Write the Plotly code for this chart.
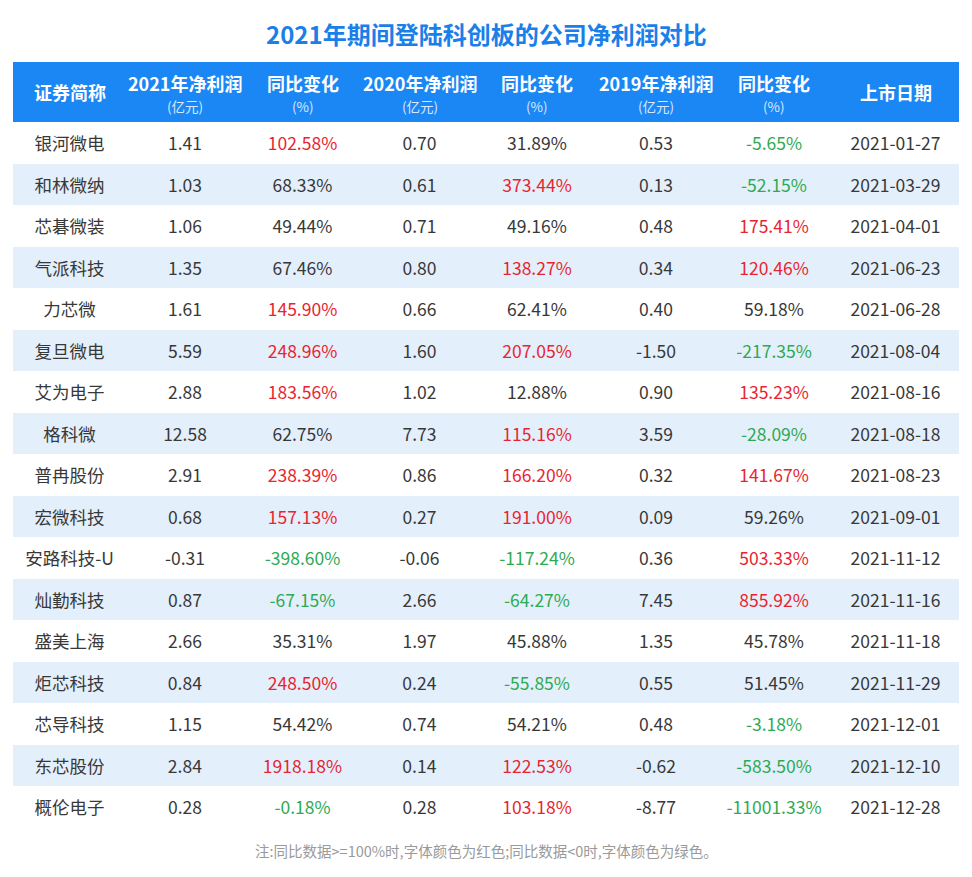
import plotly.graph_objects as go

# 2021年期间登陆科创板的公司净利润对比
names = ['银河微电', '和林微纳', '芯碁微装', '气派科技', '力芯微', '复旦微电', '艾为电子', '格科微',
         '普冉股份', '宏微科技', '安路科技-U', '灿勤科技', '盛美上海', '炬芯科技', '芯导科技', '东芯股份', '概伦电子']
profit_2021 = [1.41, 1.03, 1.06, 1.35, 1.61, 5.59, 2.88, 12.58, 2.91, 0.68, -0.31, 0.87, 2.66, 0.84, 1.15, 2.84, 0.28]
yoy_2021 = [102.58, 68.33, 49.44, 67.46, 145.90, 248.96, 183.56, 62.75, 238.39, 157.13, -398.60, -67.15, 35.31,
            248.50, 54.42, 1918.18, -0.18]
profit_2020 = [0.70, 0.61, 0.71, 0.80, 0.66, 1.60, 1.02, 7.73, 0.86, 0.27, -0.06, 2.66, 1.97, 0.24, 0.74, 0.14, 0.28]
yoy_2020 = [31.89, 373.44, 49.16, 138.27, 62.41, 207.05, 12.88, 115.16, 166.20, 191.00, -117.24, -64.27, 45.88,
            -55.85, 54.21, 122.53, 103.18]
profit_2019 = [0.53, 0.13, 0.48, 0.34, 0.40, -1.50, 0.90, 3.59, 0.32, 0.09, 0.36, 7.45, 1.35, 0.55, 0.48, -0.62, -8.77]
yoy_2019 = [-5.65, -52.15, 175.41, 120.46, 59.18, -217.35, 135.23, -28.09, 141.67, 59.26, 503.33, 855.92, 45.78,
            51.45, -3.18, -583.50, -11001.33]
list_dates = ['2021-01-27', '2021-03-29', '2021-04-01', '2021-06-23', '2021-06-28', '2021-08-04', '2021-08-16',
              '2021-08-18', '2021-08-23', '2021-09-01', '2021-11-12', '2021-11-16', '2021-11-18', '2021-11-29',
              '2021-12-01', '2021-12-10', '2021-12-28']

header_main = ['证券简称', '2021年净利润', '同比变化', '2020年净利润', '同比变化', '2019年净利润', '同比变化', '上市日期']
header_sub = ['', '(亿元)', '(%)', '(亿元)', '(%)', '(亿元)', '(%)', '']
col_widths = [113, 118, 117, 117, 118, 120, 116, 127]

FONT = 'Noto Sans CJK SC'
BLUE = '#1b87f5'
DARK = '#383838'
RED = '#e8252f'
GREEN = '#2eaa52'
BAND = '#e4effc'


def yoy_color(v):
    if v >= 100:
        return RED
    if v < 0:
        return GREEN
    return DARK


n = len(names)
columns = [
    names,
    ['%.2f' % v for v in profit_2021],
    ['%.2f%%' % v for v in yoy_2021],
    ['%.2f' % v for v in profit_2020],
    ['%.2f%%' % v for v in yoy_2020],
    ['%.2f' % v for v in profit_2019],
    ['%.2f%%' % v for v in yoy_2019],
    list_dates,
]
# wrapping the text in a tag makes the table lay it out as markup,
# which puts the line in the middle of the row instead of at the top
columns = [['<span>%s</span>' % s for s in col] for col in columns]
font_colors = [
    [DARK] * n,
    [DARK] * n,
    [yoy_color(v) for v in yoy_2021],
    [DARK] * n,
    [yoy_color(v) for v in yoy_2020],
    [DARK] * n,
    [yoy_color(v) for v in yoy_2019],
    [DARK] * n,
]
row_fill = ['white' if i % 2 == 0 else BAND for i in range(n)]

fig = go.Figure(go.Table(
    columnwidth=col_widths,
    header=dict(values=[''] * len(header_main), fill_color=BLUE, height=60,
                line=dict(color=BLUE, width=0)),
    cells=dict(values=columns, fill_color=[row_fill] * 8, align='center', height=41.5,
               line=dict(color=[row_fill] * 8, width=0),
               font=dict(family=FONT, size=17.5, color=font_colors)),
))

# header titles and units, placed at the column centres
total = float(sum(col_widths))
left = 0
for w, main, sub in zip(col_widths, header_main, header_sub):
    xc = (left + w / 2.0) / total
    fig.add_annotation(text='<b>%s</b>' % main, x=xc, y=1, xref='paper', yref='paper',
                       xanchor='center', yanchor='middle', yshift=-20.5 if sub else -30, showarrow=False,
                       font=dict(family=FONT, size=18, color='white'))
    if sub:
        fig.add_annotation(text=sub, x=xc, y=1, xref='paper', yref='paper',
                           xanchor='center', yanchor='middle', yshift=-43.5, showarrow=False,
                           font=dict(family=FONT, size=13.5, color='#d9e9ff'))
    left += w

fig.add_annotation(text='<b>2021年期间登陆科创板的公司净利润对比</b>', x=0.5, y=1, xref='paper', yref='paper',
                   xanchor='center', yanchor='middle', yshift=29, showarrow=False,
                   font=dict(family=FONT, size=24, color='#1a7fe8'))
fig.add_annotation(text='注:同比数据>=100%时,字体颜色为红色;同比数据<0时,字体颜色为绿色。', x=0.5, y=0,
                   xref='paper', yref='paper', xanchor='center', yanchor='middle', yshift=-22, showarrow=False,
                   font=dict(family=FONT, size=14.5, color='#9a9a9a'))

fig.update_layout(width=964, height=869, margin=dict(l=5, r=13, t=54, b=49),
                  paper_bgcolor='white', plot_bgcolor='white')
fig.write_html('out.html')
